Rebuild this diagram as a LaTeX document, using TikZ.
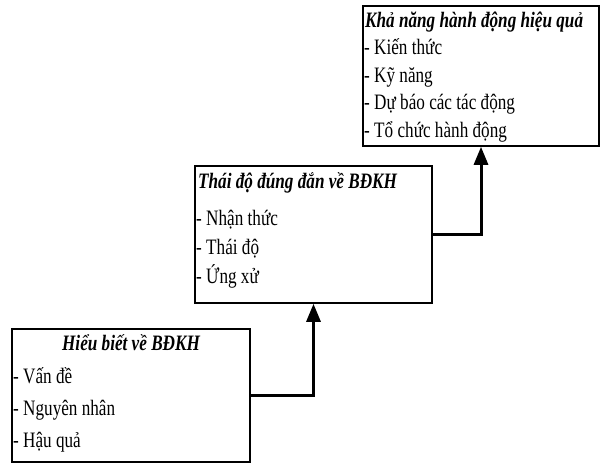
\documentclass[tikz,border=0pt]{standalone}
\usepackage{fontspec}
\setmainfont{Liberation Serif}[FakeStretch=0.78]
\usetikzlibrary{arrows.meta}
\tikzset{
  box/.style={draw=black, line width=1.6pt, rectangle, inner sep=0pt, fill=white},
  txt/.style={inner sep=0pt, anchor=base west, font=\fontsize{22}{26}\selectfont},
  ttl/.style={inner sep=0pt, anchor=base west, font=\fontsize{22}{26}\selectfont\bfseries\itshape},
  conn/.style={line width=3pt, -{Triangle[length=18pt,width=14pt]}}
}
\begin{document}
\begin{tikzpicture}[x=1pt,y=-1pt]
\useasboundingbox (0,0) rectangle (605,464);
% boxes
\node[box, minimum width=238pt, minimum height=133pt] (b1) at (131,395.5) {};
\node[box, minimum width=237pt, minimum height=137pt] (b2) at (313.5,234.5) {};
\node[box, minimum width=236pt, minimum height=140pt] (b3) at (481,76) {};
% box 1 texts
\node[ttl, anchor=base] (t1) at (131,350) {Hiểu biết về BĐKH};
\node[txt] (b1a) at (13,383) {- Vấn đề};
\node[txt] (b1b) at (13,415) {- Nguyên nhân};
\node[txt] (b1c) at (13,447) {- Hậu quả};
% box 2 texts
\node[ttl] (t2) at (198,188) {Thái độ đúng đắn về BĐKH};
\node[txt] (b2a) at (196,225) {- Nhận thức};
\node[txt] (b2b) at (196,254) {- Thái độ};
\node[txt] (b2c) at (196,283) {- Ứng xử};
% box 3 texts
\node[ttl] (t3) at (365,27) {Khả năng hành động hiệu quả};
\node[txt] (b3a) at (364,54) {- Kiến thức};
\node[txt] (b3b) at (364,82) {- Kỹ năng};
\node[txt] (b3c) at (364,109) {- Dự báo các tác động};
\node[txt] (b3d) at (364,137) {- Tổ chức hành động};
% connectors
\draw[conn] (b1.east) -| (b2.south);
\draw[conn] (b2.east) -| (b3.south);
\end{tikzpicture}
\end{document}
